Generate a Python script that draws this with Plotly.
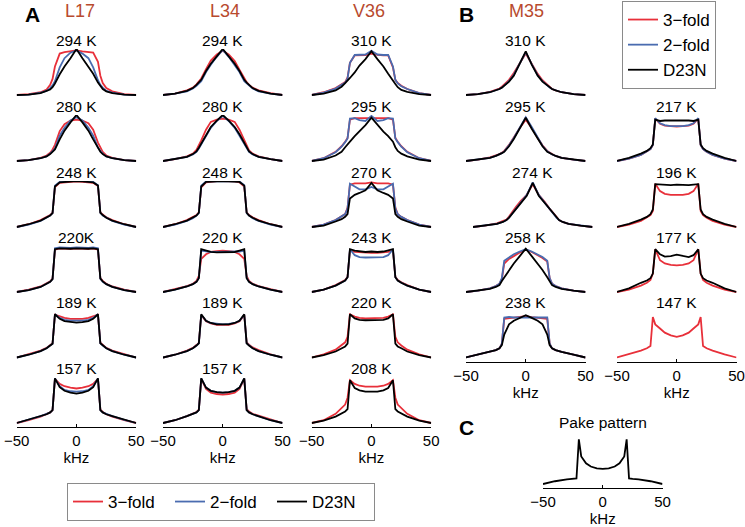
import plotly.graph_objects as go

# ---------------- data (normalised intensity vs frequency, kHz) ----------------
KHZ = [-50, -40, -30, -25, -22, -20, -18, -14, -10, -5, 0, 5, 10, 14, 18, 20, 22, 25, 30, 40, 50]

SERIES = ["3\u2212fold", "2\u2212fold", "D23N"]
COLORS = ["#E8303A", "#4A6CB0", "#000000"]

# Panel A, L17
L17_294_r = [0, .02, .06, .12, .22, .35, .62, .90, .93, .95, .97, .95, .94, .92, .72, .42, .26, .15, .08, .02, 0]
L17_294_b = [0, .01, .05, .09, .15, .21, .30, .60, .80, .92, .97, .90, .80, .60, .32, .22, .16, .09, .05, .01, 0]
L17_294_k = [0, .01, .04, .08, .12, .17, .25, .45, .62, .80, 1.0, .80, .62, .46, .27, .19, .13, .08, .04, .01, 0]
L17_280_r = [0, .02, .07, .12, .18, .25, .35, .65, .80, .88, .90, .88, .82, .68, .40, .28, .20, .12, .07, .02, 0]
L17_280_b = [0, .02, .06, .10, .16, .21, .27, .55, .72, .88, .95, .88, .72, .55, .29, .22, .16, .10, .06, .02, 0]
L17_280_k = [0, .02, .06, .10, .15, .19, .25, .47, .66, .84, 1.0, .84, .66, .47, .27, .20, .15, .10, .06, .02, 0]
L17_248_r = [0, .06, .15, .21, .26, .31, .87, .96, .97, .98, .99, .98, .97, .96, .89, .32, .27, .21, .15, .06, 0]
L17_248_b = [0, .05, .13, .20, .25, .30, .90, .98, .99, 1.0, 1.01, 1.0, .99, .98, .91, .31, .25, .20, .13, .05, 0]
L17_248_k = [0, .06, .14, .20, .25, .30, .88, .97, .98, .99, 1.0, .99, .98, .97, .90, .31, .26, .20, .14, .06, 0]
L17_220_r = [0, .05, .12, .18, .23, .29, .92, .95, .94, .94, .95, .94, .94, .95, .92, .30, .24, .18, .12, .05, 0]
L17_220_b = [0, .04, .11, .17, .22, .28, .95, .97, .96, .96, .97, .96, .96, .97, .95, .29, .22, .17, .11, .04, 0]
L17_220_k = [0, .04, .11, .17, .22, .28, .93, .95, .94, .94, .95, .94, .94, .95, .93, .29, .23, .17, .11, .04, 0]
L17_189_r = [0, .07, .15, .21, .27, .31, .93, .89, .86, .84, .84, .84, .86, .89, .93, .32, .27, .21, .15, .07, 0]
L17_189_b = [0, .06, .14, .20, .26, .30, .94, .86, .82, .80, .80, .80, .82, .86, .94, .31, .26, .20, .14, .06, 0]
L17_189_k = [0, .06, .14, .20, .26, .30, .94, .84, .79, .77, .76, .77, .79, .84, .94, .31, .26, .20, .14, .06, 0]
L17_157_r = [0, .06, .14, .19, .23, .28, .96, .85, .80, .77, .75, .77, .80, .85, .96, .29, .24, .19, .14, .06, 0]
L17_157_b = [0, .07, .15, .20, .23, .28, .97, .80, .72, .69, .68, .69, .72, .80, .97, .28, .23, .20, .15, .07, 0]
L17_157_k = [0, .07, .15, .19, .23, .28, .97, .78, .70, .66, .64, .66, .70, .78, .97, .28, .23, .19, .15, .07, 0]

# Panel A, L34
L34_294_r = [0, .03, .10, .16, .23, .29, .36, .56, .75, .88, .96, .88, .74, .55, .35, .28, .22, .16, .10, .04, 0]
L34_294_b = [0, .03, .08, .14, .20, .25, .30, .50, .66, .83, .98, .83, .66, .50, .30, .25, .20, .14, .08, .03, 0]
L34_294_k = [0, .03, .09, .15, .22, .27, .33, .52, .68, .84, 1.0, .84, .68, .52, .33, .27, .22, .15, .09, .03, 0]
L34_280_r = [0, .04, .10, .16, .24, .34, .45, .68, .85, .90, .92, .90, .85, .68, .45, .33, .23, .16, .10, .04, 0]
L34_280_b = [0, .04, .09, .14, .20, .27, .36, .55, .72, .87, .98, .87, .72, .55, .36, .27, .20, .14, .09, .04, 0]
L34_280_k = [0, .04, .09, .15, .21, .29, .38, .58, .74, .88, 1.0, .88, .74, .58, .38, .29, .21, .15, .09, .04, 0]
L34_248_r = [0, .06, .15, .21, .26, .32, .86, .97, .99, 1.0, 1.0, 1.0, .99, .97, .88, .32, .26, .21, .15, .06, 0]
L34_248_b = [0, .05, .13, .19, .25, .30, .90, .99, 1.0, 1.0, 1.0, 1.0, 1.0, .99, .91, .30, .25, .19, .13, .05, 0]
L34_248_k = [0, .06, .14, .20, .25, .31, .88, .98, .99, .99, 1.0, .99, .99, .98, .90, .31, .25, .20, .14, .06, 0]
L34_220_r = [0, .06, .13, .18, .24, .35, .72, .82, .87, .89, .90, .89, .87, .82, .72, .35, .24, .18, .13, .06, 0]
L34_220_b = [0, .05, .12, .17, .22, .31, .90, .88, .87, .87, .87, .87, .87, .88, .90, .31, .22, .17, .12, .05, 0]
L34_220_k = [0, .05, .12, .17, .22, .30, .93, .90, .87, .86, .86, .86, .87, .90, .93, .30, .22, .17, .12, .05, 0]
L34_189_r = [0, .06, .15, .21, .27, .32, .92, .79, .74, .71, .71, .71, .74, .79, .92, .33, .28, .22, .16, .07, 0]
L34_189_b = [0, .06, .14, .20, .26, .31, .93, .80, .75, .73, .72, .73, .75, .80, .93, .31, .26, .20, .14, .06, 0]
L34_189_k = [0, .06, .14, .20, .26, .31, .94, .80, .75, .72, .72, .72, .75, .80, .94, .31, .26, .20, .14, .06, 0]
L34_157_r = [0, .06, .15, .20, .24, .29, .96, .74, .66, .63, .62, .63, .66, .74, .96, .30, .25, .20, .16, .08, 0]
L34_157_b = [0, .06, .15, .19, .23, .28, .97, .77, .70, .67, .66, .67, .70, .77, .97, .28, .23, .19, .15, .06, 0]
L34_157_k = [0, .06, .15, .19, .23, .28, .97, .77, .70, .67, .66, .67, .70, .77, .97, .28, .23, .19, .15, .06, 0]

# Panel A, V36
V36_310_r = [0, .06, .15, .22, .28, .38, .70, .86, .86, .87, .90, .87, .86, .86, .60, .33, .26, .20, .13, .04, 0]
V36_310_b = [0, .05, .14, .21, .27, .36, .70, .87, .87, .88, .96, .88, .87, .87, .62, .33, .25, .19, .13, .04, 0]
V36_310_k = [0, .03, .10, .18, .26, .31, .37, .49, .64, .78, .95, .78, .62, .46, .33, .24, .17, .11, .07, .02, 0]
V36_295_r = [0, .06, .20, .32, .42, .50, .90, .93, .93, .93, .93, .93, .93, .93, .90, .50, .42, .32, .20, .06, 0]
V36_295_b = [0, .06, .19, .31, .41, .49, .92, .93, .89, .87, .98, .87, .89, .93, .92, .49, .41, .31, .19, .06, 0]
V36_295_k = [0, .03, .12, .20, .30, .37, .42, .54, .64, .78, .94, .78, .64, .54, .42, .30, .22, .16, .10, .03, 0]
V36_270_r = [0, .05, .15, .22, .28, .42, .92, .95, .95, .95, .97, .95, .95, .95, .92, .42, .28, .22, .15, .05, 0]
V36_270_b = [0, .05, .15, .22, .28, .40, .94, .88, .82, .82, .87, .82, .82, .88, .94, .40, .28, .22, .15, .05, 0]
V36_270_k = [0, .03, .12, .17, .22, .28, .62, .70, .74, .80, .96, .80, .74, .70, .62, .28, .22, .17, .12, .03, 0]
V36_243_r = [0, .05, .15, .21, .26, .33, .90, .87, .86, .85, .85, .85, .86, .87, .90, .33, .26, .21, .15, .05, 0]
V36_243_b = [0, .05, .14, .20, .25, .32, .93, .80, .76, .75, .75, .75, .76, .80, .93, .32, .25, .20, .14, .05, 0]
V36_243_k = [0, .05, .14, .20, .25, .32, .93, .90, .88, .87, .88, .87, .88, .90, .93, .32, .25, .20, .14, .05, 0]
V36_220_r = [0, .07, .17, .26, .33, .45, .94, .89, .86, .85, .85, .85, .86, .89, .94, .45, .33, .26, .17, .07, 0]
V36_220_k = [0, .05, .13, .20, .24, .30, .94, .85, .82, .81, .81, .81, .82, .85, .94, .30, .24, .20, .13, .05, 0]
V36_208_r = [0, .06, .20, .32, .40, .55, .93, .85, .81, .79, .79, .79, .81, .85, .93, .55, .40, .32, .20, .06, 0]
V36_208_k = [0, .05, .14, .21, .25, .30, .93, .76, .71, .68, .68, .68, .71, .76, .93, .30, .25, .21, .14, .05, 0]

# Panel B, M35
M35_310_r = [0, .02, .07, .11, .14, .18, .23, .33, .48, .70, .90, .68, .46, .32, .23, .17, .13, .10, .06, .02, 0]
M35_310_b = [0, .02, .06, .10, .13, .16, .20, .30, .44, .68, .93, .67, .43, .30, .20, .16, .13, .10, .06, .02, 0]
M35_310_k = [0, .02, .06, .10, .13, .16, .20, .29, .42, .68, .95, .66, .42, .29, .20, .16, .13, .10, .06, .02, 0]
M35_295_r = [0, .03, .08, .12, .15, .18, .22, .35, .52, .72, .90, .72, .50, .34, .22, .18, .15, .11, .07, .03, 0]
M35_295_b = [0, .03, .07, .11, .14, .17, .21, .34, .50, .74, .95, .74, .50, .33, .21, .17, .14, .11, .07, .03, 0]
M35_295_k = [0, .03, .07, .11, .14, .17, .20, .32, .48, .70, .94, .70, .48, .32, .20, .17, .14, .11, .07, .03, 0]
M35_274_r = [0, .03, .08, .12, .16, .22, .30, .44, .57, .70, .93, .70, .55, .40, .28, .21, .15, .11, .07, .03, 0]
M35_274_b = [0, .03, .07, .11, .15, .20, .27, .40, .53, .70, .97, .70, .53, .39, .27, .20, .15, .11, .07, .03, 0]
M35_274_k = [0, .03, .07, .11, .15, .20, .26, .38, .52, .68, .96, .68, .52, .38, .26, .20, .15, .11, .07, .03, 0]
M35_258_r = [0, .03, .08, .13, .18, .28, .62, .72, .78, .86, .92, .87, .80, .74, .66, .30, .18, .13, .08, .03, 0]
M35_258_b = [0, .03, .08, .13, .18, .30, .68, .76, .82, .88, .93, .88, .82, .76, .68, .30, .18, .13, .08, .03, 0]
M35_258_k = [0, .03, .07, .11, .15, .24, .32, .48, .62, .78, .94, .78, .62, .48, .32, .24, .15, .11, .07, .03, 0]
M35_238_r = [0, .06, .12, .16, .20, .30, .84, .85, .86, .88, .90, .88, .86, .85, .84, .30, .20, .16, .12, .06, 0]
M35_238_b = [0, .06, .12, .16, .20, .30, .87, .88, .87, .87, .88, .87, .87, .88, .87, .30, .20, .16, .12, .06, 0]
M35_238_k = [0, .06, .12, .16, .20, .27, .50, .72, .80, .86, .92, .86, .80, .72, .50, .27, .20, .16, .12, .06, 0]

# Panel B, second column
B2_217_r = [0, .05, .13, .20, .26, .35, .92, .81, .77, .76, .75, .76, .77, .81, .92, .35, .26, .20, .13, .05, 0]
B2_217_b = [0, .05, .13, .20, .26, .35, .93, .82, .78, .76, .76, .76, .78, .82, .93, .35, .26, .20, .13, .05, 0]
B2_217_k = [0, .07, .16, .22, .28, .36, .90, .87, .88, .88, .89, .88, .88, .87, .90, .36, .28, .22, .16, .07, 0]
B2_196_r = [0, .05, .13, .20, .26, .35, .94, .78, .72, .70, .70, .70, .72, .78, .94, .35, .26, .20, .13, .05, 0]
B2_196_k = [0, .07, .16, .22, .28, .38, .93, .92, .91, .91, .92, .91, .91, .92, .93, .38, .28, .22, .16, .07, 0]
B2_177_r = [0, .05, .14, .20, .26, .40, .93, .69, .62, .59, .58, .59, .62, .69, .93, .40, .26, .20, .14, .05, 0]
B2_177_k = [0, .08, .20, .25, .30, .40, .93, .82, .77, .78, .81, .78, .76, .80, .93, .40, .30, .25, .20, .08, 0]
B2_147_r = [0, .07, .15, .20, .25, .88, .72, .63, .54, .48, .45, .48, .54, .63, .72, .88, .25, .20, .15, .07, 0]

# Panel C
PAKE = [0, .06, .10, .11, .12, .97, .60, .45, .38, .34, .33, .34, .38, .45, .60, .97, .12, .11, .10, .06, 0]

# panels: (column, row, temperature label, [3-fold, 2-fold, D23N])
PANELS = [
    ("L17", 0, "294 K", [L17_294_r, L17_294_b, L17_294_k]),
    ("L17", 1, "280 K", [L17_280_r, L17_280_b, L17_280_k]),
    ("L17", 2, "248 K", [L17_248_r, L17_248_b, L17_248_k]),
    ("L17", 3, "220K", [L17_220_r, L17_220_b, L17_220_k]),
    ("L17", 4, "189 K", [L17_189_r, L17_189_b, L17_189_k]),
    ("L17", 5, "157 K", [L17_157_r, L17_157_b, L17_157_k]),
    ("L34", 0, "294 K", [L34_294_r, L34_294_b, L34_294_k]),
    ("L34", 1, "280 K", [L34_280_r, L34_280_b, L34_280_k]),
    ("L34", 2, "248 K", [L34_248_r, L34_248_b, L34_248_k]),
    ("L34", 3, "220 K", [L34_220_r, L34_220_b, L34_220_k]),
    ("L34", 4, "189 K", [L34_189_r, L34_189_b, L34_189_k]),
    ("L34", 5, "157 K", [L34_157_r, L34_157_b, L34_157_k]),
    ("V36", 0, "310 K", [V36_310_r, V36_310_b, V36_310_k]),
    ("V36", 1, "295 K", [V36_295_r, V36_295_b, V36_295_k]),
    ("V36", 2, "270 K", [V36_270_r, V36_270_b, V36_270_k]),
    ("V36", 3, "243 K", [V36_243_r, V36_243_b, V36_243_k]),
    ("V36", 4, "220 K", [V36_220_r, None, V36_220_k]),
    ("V36", 5, "208 K", [V36_208_r, None, V36_208_k]),
    ("M35", 0, "310 K", [M35_310_r, M35_310_b, M35_310_k]),
    ("M35", 1, "295 K", [M35_295_r, M35_295_b, M35_295_k]),
    ("M35", 2, "274 K", [M35_274_r, M35_274_b, M35_274_k]),
    ("M35", 3, "258 K", [M35_258_r, M35_258_b, M35_258_k]),
    ("M35", 4, "238 K", [M35_238_r, M35_238_b, M35_238_k]),
    ("B2", 1, "217 K", [B2_217_r, B2_217_b, B2_217_k]),
    ("B2", 2, "196 K", [B2_196_r, None, B2_196_k]),
    ("B2", 3, "177 K", [B2_177_r, None, B2_177_k]),
    ("B2", 4, "147 K", [B2_147_r, None, None]),
    ("C", 0, "Pake pattern", [None, None, PAKE]),
]

# ---------------- layout geometry (pixels) ----------------
W, H = 745, 527
COL_X = {"L17": 16.7, "L34": 163.0, "V36": 311.7, "M35": 466.0, "B2": 617.0, "C": 543.0}
COL_W = 119.5
ROW_BASE = [95, 161, 227, 292, 357.5, 423]
C_BASE = 484
SHIFT = {("M35", 2): 7}
BOTTOM = {("L17", 5), ("L34", 5), ("V36", 5), ("M35", 4), ("B2", 4), ("C", 0)}
FONT = "Arial, Liberation Sans, sans-serif"

def px(x):
    return x / W

def py(y):
    return 1 - y / H

fig = go.Figure()
layout = {}
annotations = []
for i, (col, row, label, curves) in enumerate(PANELS):
    n = i + 1
    xa = "x" if n == 1 else f"x{n}"
    ya = "y" if n == 1 else f"y{n}"
    x0 = COL_X[col] + SHIFT.get((col, row), 0)
    base = C_BASE if col == "C" else ROW_BASE[row]
    lab_off = 62 if col == "C" else 55
    for s, vals in enumerate(curves):
        if vals is None:
            continue
        fig.add_trace(go.Scatter(
            x=KHZ, y=vals, mode="lines", xaxis=xa, yaxis=ya, showlegend=False,
            line=dict(color=COLORS[s], width=1.8),
            name=SERIES[s], hoverinfo="skip"))
    bottom = (col, row) in BOTTOM
    xkey = "xaxis" if n == 1 else f"xaxis{n}"
    ykey = "yaxis" if n == 1 else f"yaxis{n}"
    layout[xkey] = dict(
        domain=[px(x0), px(x0 + COL_W)], anchor=ya, range=[-50, 50],
        visible=bottom, showgrid=False, zeroline=False, automargin=False,
        showline=True, linecolor="black", linewidth=1,
        ticks="inside", ticklen=3, tickcolor="black",
        tickvals=[-50, 0, 50], ticktext=["\u221250", "0", "50"],
        tickfont=dict(family=FONT, size=15, color="black"),
        title=dict(text="kHz", font=dict(family=FONT, size=15, color="black"), standoff=4),
        fixedrange=True)
    layout[ykey] = dict(
        domain=[py(base + 4), py(base - 46)], anchor=xa, range=[-0.087, 1.0],
        visible=False, automargin=False, fixedrange=True)
    annotations.append(dict(
        text=label, x=px(x0 + COL_W / 2), y=py(base - lab_off), xref="paper", yref="paper",
        showarrow=False, xanchor="center", yanchor="middle",
        font=dict(family=FONT, size=15.5, color="black")))

# column titles and panel letters
TITLES = [("L17", 80), ("L34", 225), ("V36", 369), ("M35", 526)]
for t, x in TITLES:
    annotations.append(dict(text=t, x=px(x), y=1.0, xref="paper", yref="paper",
                            showarrow=False, xanchor="center", yanchor="top", borderpad=0,
                            font=dict(family=FONT, size=18, color="#B84A2E")))
LETTERS = [("A", 32, 14), ("B", 466, 14), ("C", 466, 427)]
for t, x, y in LETTERS:
    annotations.append(dict(text=f"<b>{t}</b>", x=px(x), y=py(y), xref="paper", yref="paper",
                            showarrow=False, xanchor="center", yanchor="middle",
                            font=dict(family=FONT, size=21, color="black")))

# legend entries (two legends, as in the reference)
for s in range(3):
    fig.add_trace(go.Scatter(x=[None], y=[None], mode="lines", name=SERIES[s],
                             line=dict(color=COLORS[s], width=1.8), legend="legend",
                             legendgroup=f"g{s}"))
for s in range(3):
    fig.add_trace(go.Scatter(x=[None], y=[None], mode="lines", name=SERIES[s],
                             line=dict(color=COLORS[s], width=1.8), legend="legend2"))

fig.update_layout(
    template="none",
    width=W, height=H, autosize=False, margin=dict(l=0, r=0, t=0, b=0, pad=0),
    paper_bgcolor="white", plot_bgcolor="white",
    annotations=annotations,
    legend=dict(x=px(622), y=py(1), xanchor="left", yanchor="top",
                bordercolor="#8a8a8a", borderwidth=1, bgcolor="white",
                font=dict(family=FONT, size=17, color="black"), tracegroupgap=0),
    legend2=dict(x=px(67), y=py(483), xanchor="left", yanchor="top", orientation="h",
                 entrywidth=57, entrywidthmode="pixels",
                 bordercolor="#8a8a8a", borderwidth=1, bgcolor="white",
                 font=dict(family=FONT, size=17, color="black")),
    **layout)

fig.write_html("out.html", config={"displayModeBar": False},
               post_script="document.body.style.margin='0px';document.body.style.padding='0px';")
